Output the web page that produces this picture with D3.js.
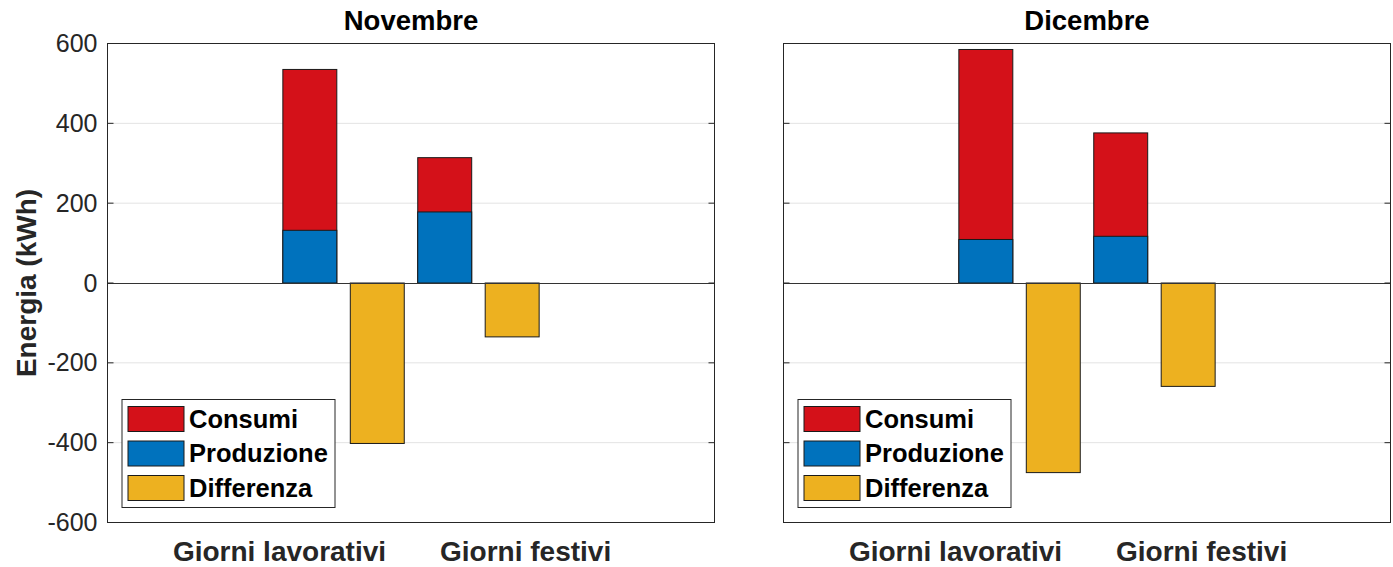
<!DOCTYPE html>
<html>
<head>
<meta charset="utf-8">
<script src="https://cdn.jsdelivr.net/npm/d3@7"></script>
<style>
  html, body { margin: 0; padding: 0; background: #fff; }
  svg { display: block; font-family: "Liberation Sans", Arial, Helvetica, sans-serif; }
</style>
</head>
<body>
<svg id="chart" width="1393" height="567"></svg>
<script>
// ---- Data ----
const months = ["Novembre", "Dicembre"];
const categories = ["Giorni lavorativi", "Giorni festivi"];
const seriesNames = ["Consumi", "Produzione", "Differenza"];
const consumi = [[535, 314], [585, 376]];
const produzione = [[132, 178], [109, 117]];
const differenza = [[-402, -135], [-475, -259]];
const yTicks = [-600, -400, -200, 0, 200, 400, 600];

// ---- Layout / style ----
const colors = ["#D41119", "#0072BD", "#EDB120"];
const panels = [{ x0: 107.5, x1: 714.5 }, { x0: 783.5, x1: 1390.5 }];
const yTop = 43.5, yBot = 522.5;
const xDomain = [0, 9];
const barPos = [3, 5];     // consumi / produzione positions per category
const diffPos = [4, 6];    // differenza positions per category
const labelPos = [2.55, 6.2];
const barW = 0.8;

const svg = d3.select("#chart");
const y = d3.scaleLinear().domain([-600, 600]).range([yBot, yTop]);

panels.forEach((p, mi) => {
  const x = d3.scaleLinear().domain(xDomain).range([p.x0, p.x1]);
  const g = svg.append("g");
  const w = x(barW) - x(0);

  // grid
  g.append("g").selectAll("line").data(yTicks.filter(t => t !== 0 && Math.abs(t) !== 600)).join("line")
    .attr("x1", p.x0).attr("x2", p.x1)
    .attr("y1", d => y(d)).attr("y2", d => y(d))
    .attr("stroke", "#e3e3e3").attr("stroke-width", 1);

  // bars: consumi, then produzione on top, then differenza
  const drawBars = (vals, pos, color) => {
    g.append("g").selectAll("rect").data(vals).join("rect")
      .attr("x", (d, i) => x(pos[i]) - w / 2)
      .attr("width", w)
      .attr("y", d => Math.min(y(d), y(0)))
      .attr("height", d => Math.abs(y(d) - y(0)))
      .attr("fill", color)
      .attr("stroke", "#1a1a1a").attr("stroke-width", 1);
  };
  drawBars(consumi[mi], barPos, colors[0]);
  drawBars(produzione[mi], barPos, colors[1]);
  drawBars(differenza[mi], diffPos, colors[2]);

  // baseline
  g.append("line").attr("x1", p.x0).attr("x2", p.x1)
    .attr("y1", Math.round(y(0)) + 0.5).attr("y2", Math.round(y(0)) + 0.5)
    .attr("stroke", "#333").attr("stroke-width", 1);

  // y axis ticks (inward on both sides)
  const tickG = g.append("g");
  yTicks.forEach(t => {
    tickG.append("line").attr("x1", p.x0).attr("x2", p.x0 + 6)
      .attr("y1", y(t)).attr("y2", y(t)).attr("stroke", "#262626");
    tickG.append("line").attr("x1", p.x1 - 6).attr("x2", p.x1)
      .attr("y1", y(t)).attr("y2", y(t)).attr("stroke", "#262626");
  });
  if (mi === 0) {
    const ya = d3.axisLeft(y).tickValues(yTicks).tickFormat(d => String(d)).tickSize(0).tickPadding(10);
    const ag = g.append("g").attr("transform", `translate(${p.x0},0)`).call(ya);
    ag.select(".domain").remove();
    ag.selectAll("text").attr("font-size", 25).attr("fill", "#262626")
      .attr("font-family", "'Liberation Sans', Arial, sans-serif");
  }

  // box
  g.append("rect").attr("x", p.x0).attr("y", yTop)
    .attr("width", p.x1 - p.x0).attr("height", yBot - yTop)
    .attr("fill", "none").attr("stroke", "#262626").attr("stroke-width", 1);

  // category labels
  g.append("g").selectAll("text").data(categories).join("text")
    .attr("x", (d, i) => x(labelPos[i]))
    .attr("y", 561)
    .attr("text-anchor", "middle")
    .attr("font-size", 28).attr("font-weight", "bold").attr("fill", "#262626")
    .text(d => d);

  // title
  g.append("text").attr("x", (p.x0 + p.x1) / 2).attr("y", 30)
    .attr("text-anchor", "middle").attr("font-size", 27.5).attr("font-weight", "bold")
    .attr("fill", "#000").text(months[mi]);

  // legend
  const lx = p.x0 + 14.5, ly = 399.5;
  const lg = g.append("g");
  lg.append("rect").attr("x", lx).attr("y", ly).attr("width", 213).attr("height", 108)
    .attr("fill", "#fff").attr("stroke", "#262626").attr("stroke-width", 1);
  seriesNames.forEach((s, i) => {
    const ry = ly + 7 + i * 34.5;
    lg.append("rect").attr("x", lx + 6).attr("y", ry).attr("width", 56).attr("height", 25)
      .attr("fill", colors[i]).attr("stroke", "#1a1a1a").attr("stroke-width", 1);
    lg.append("text").attr("x", lx + 67).attr("y", ry + 21)
      .attr("font-size", 25.5).attr("font-weight", "bold").attr("fill", "#000").text(s);
  });
});

// y axis label
svg.append("text")
  .attr("transform", "translate(36,283) rotate(-90)")
  .attr("text-anchor", "middle").attr("font-size", 28).attr("font-weight", "bold")
  .attr("fill", "#262626").text("Energia (kWh)");
</script>
</body>
</html>
